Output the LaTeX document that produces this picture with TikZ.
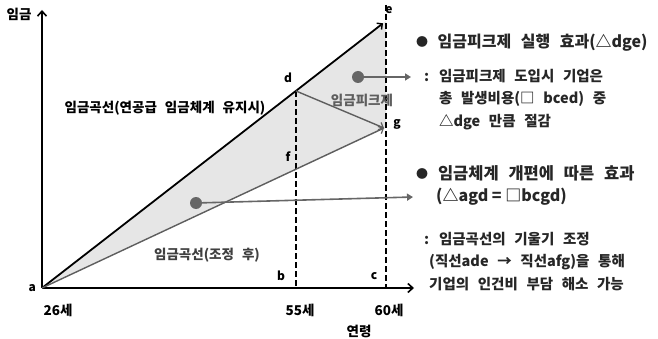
\documentclass[tikz,border=0pt]{standalone}
\usepackage{fontspec}
\setmainfont{Noto Sans CJK KR}[WordSpace=2.6]
\newfontfamily\plainkr{Noto Sans CJK KR}
\usetikzlibrary{arrows.meta, positioning}
\definecolor{linegray}{HTML}{5E5E5E}
\definecolor{shadegray}{HTML}{E6E6E6}
\definecolor{dotgray}{HTML}{666666}
\newcommand{\smallbullet}{{\fontsize{12}{12}\selectfont\raisebox{1pt}{●}}}

\begin{document}
\begin{tikzpicture}[x=1pt, y=-1pt,
  axis/.style={line width=2pt, -{Straight Barb[length=5pt, width=9pt, line width=1.6pt]}},
  wline/.style={line width=1.8pt, -{Straight Barb[length=4pt, width=8pt, line width=1.4pt]}},
  adjline/.style={linegray, line width=1.4pt, -{Straight Barb[length=4pt, width=8pt, line width=1.2pt]}},
  guide/.style={line width=1.6pt, dash pattern=on 6pt off 3pt},
  lbl/.style={font=\fontsize{13.5}{15}\selectfont\bfseries, inner sep=1pt},
  pt/.style={font=\fontsize{12}{14}\selectfont\bfseries, inner sep=1pt},
  dot/.style={circle, fill=dotgray, minimum size=12pt, inner sep=0pt},
  pointer/.style={dotgray, line width=1.6pt, -{Triangle[length=6pt, width=7pt]}},
  head/.style={font=\fontsize{16}{24}\selectfont\bfseries, anchor=west, inner sep=0pt, text=black!85},
  body/.style={font=\fontsize{14.5}{22.5}\selectfont\bfseries, anchor=north west, align=left, inner sep=0pt, text=black!85},
]
\useasboundingbox (0,0) rectangle (658,339);

% points of the wage curves
\coordinate (a) at (42,288);
\coordinate (b) at (296,288);
\coordinate (c) at (386,288);
\coordinate (d) at (296,91);
\coordinate (e) at (386,21);
\coordinate (f) at (296,170);
\coordinate (g) at (386,128);
\coordinate (xend) at (414,288);
\coordinate (yend) at (42,10);
\coordinate (etop) at (386,5);

% shaded area between the two curves
\fill[shadegray] (a) -- (e) -- (g) -- cycle;

% axes
\draw[axis] (a) -- (xend);
\draw[axis] (a) -- (yend);

% dashed guides at 55 and 60
\draw[guide] (d) -- (b);
\draw[guide] (etop) -- (c);

% wage curves
\draw[wline] (a) -- ([shift={(-3,2.3)}]e);
\draw[adjline] (a) -- ([xshift=-2pt]g);
\draw[adjline] (d) -- ([xshift=-2pt]g);

% point labels
\node[pt, left=5pt of a] {a};
\node[pt] at (281,276) {b};
\node[pt] at (374,276) {c};
\node[pt] at (288,78) {d};
\node[pt] at (389,10) {e};
\node[pt] at (288,157) {f};
\node[pt] at (397,124) {g};

% axis labels
\node[lbl] at (19,14) {임금};
\node[lbl] at (58,310) {26세};
\node[lbl] at (300,310) {55세};
\node[lbl] at (389,310) {60세};
\node[lbl] at (359,331) {연령};

% curve labels
\node[lbl] at (165,108) {임금곡선(연공급 임금체계 유지시)};
\node[lbl, text=linegray] at (362,100) {임금피크제};
\node[lbl, text=black!75] at (207,255) {임금곡선(조정 후)};

% pointers to the notes
\node[dot] (dot1) at (358,77) {};
\node[dot] (dot2) at (196,203) {};
\coordinate (tip1) at (411,77);
\coordinate (tip2) at (413,197);
\draw[pointer] (dot1.center) -- (tip1);
\draw[pointer] (dot2.center) -- (tip2);

% notes on the right
\node[head] (h1) at (416,43) {\smallbullet\ 임금피크제 실행 효과(△dge)};
\node[body] (n1) at (424,69) {: 임금피크제 도입시 기업은\\
  \phantom{: }총 발생비용(□ bced) 중\\
  \phantom{: }△dge 만큼 절감};
\node[head, font=\fontsize{16.5}{24}\selectfont\bfseries] (h2) at (416,173) {\smallbullet\ 임금체계 개편에 따른 효과};
\node[head, font=\fontsize{16}{24}\selectfont\plainkr\bfseries] (h2b) at (436,197) {(△agd = □bcgd)};
\node[body] (n2) at (424,232) {: 임금곡선의 기울기 조정\\
  \hspace*{5pt}(직선ade → 직선afg)을 통해\\
  \hspace*{5pt}기업의 인건비 부담 해소 가능};
\end{tikzpicture}
\end{document}
